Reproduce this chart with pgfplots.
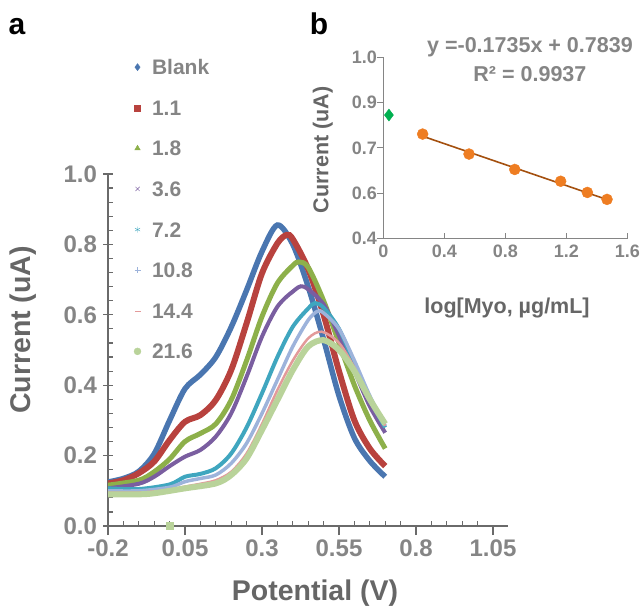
\documentclass[border=0pt]{standalone}
\usepackage{fontspec}
\setmainfont{Liberation Sans}
\usepackage{pgfplots}
\pgfplotsset{compat=1.18}

\definecolor{cBlue}{HTML}{4A76B0}
\definecolor{cRed}{HTML}{B8423E}
\definecolor{cGreen}{HTML}{8DB04A}
\definecolor{cPurple}{HTML}{7A5EA0}
\definecolor{cTeal}{HTML}{3FA6BF}
\definecolor{cLBlue}{HTML}{9DB3DB}
\definecolor{cPink}{HTML}{E39A9A}
\definecolor{cLGreen}{HTML}{B9D39A}
\definecolor{cOrange}{HTML}{EE7D22}
\definecolor{cTrend}{HTML}{A4500F}
\definecolor{cDia}{HTML}{00B050}
\definecolor{cAxis}{HTML}{6A6A6A}
\definecolor{cTick}{HTML}{858585}
\definecolor{cTitle}{HTML}{666666}

\newcommand{\fs}[1]{\fontsize{#1}{#1}\selectfont\bfseries}

\begin{document}
\begin{tikzpicture}
\useasboundingbox (0,0) rectangle (644bp,606bp);

% panel a
\begin{axis}[
    at={(108bp,80bp)}, anchor=south west,
    scale only axis, width=400.4bp, height=352bp,
    xmin=-0.2, xmax=1.1, ymin=0, ymax=1.0,
    axis x line*=bottom, axis y line*=left,
    axis line style={cAxis, line width=1.2bp},
    xtick={-0.2,0.05,0.3,0.55,0.8,1.05},
    xticklabels={-0.2,0.05,0.3,0.55,0.8,1.05},
    ytick={0,0.2,0.4,0.6,0.8,1.0},
    yticklabels={0.0,0.2,0.4,0.6,0.8,1.0},
    minor x tick num=4, minor y tick num=4,
    tick align=center,
    major tick length=9bp, minor tick length=5bp,
    tick style={cAxis, line width=1.2bp},
    major x tick style={yshift=-4.5bp},
    minor x tick style={yshift=2.5bp},
    minor y tick style={xshift=2.5bp},
    tick label style={font=\fs{24bp}, text=cTick},
    xticklabel style={yshift=-6bp},
    yticklabel style={xshift=-3bp},
    xlabel={Potential (V)}, ylabel={Current (uA)},
    label style={font=\fs{28.5bp}, text=cTitle},
    xlabel style={at={(axis description cs:0.517,-0.19)}, anchor=center},
    ylabel style={at={(axis description cs:-0.212,0.557)}, anchor=center},
    legend style={at={(axis description cs:0.057,1.331)}, anchor=north west,
        draw=none, fill=none, font=\fs{21bp}, text=cTick, row sep=25.6bp,
        nodes={inner sep=0pt, text height=15bp, text depth=0pt},
        /tikz/every odd column/.append style={column sep=11bp}},
    legend cell align=left,
    legend image code/.code={\draw[#1] plot coordinates {(0bp,0bp)};},
  ]
  \addlegendimage{only marks, mark=diamond*, mark size=3.5bp, color=cBlue}
  \addlegendentry{Blank}
  \addlegendimage{only marks, mark=square*, mark size=3bp, color=cRed}
  \addlegendentry{1.1}
  \addlegendimage{only marks, mark=triangle*, mark size=3.2bp, color=cGreen}
  \addlegendentry{1.8}
  \addlegendimage{only marks, mark=x, mark size=3bp, color=cPurple}
  \addlegendentry{3.6}
  \addlegendimage{only marks, mark=asterisk, mark size=3bp, color=cTeal}
  \addlegendentry{7.2}
  \addlegendimage{only marks, mark=+, mark size=3bp, color=cLBlue}
  \addlegendentry{10.8}
  \addlegendimage{only marks, mark=-, mark size=3bp, color=cPink}
  \addlegendentry{14.4}
  \addlegendimage{only marks, mark=*, mark size=3.5bp, color=cLGreen}
  \addlegendentry{21.6}

  % Blank
  \addplot[forget plot, smooth, cBlue, line width=5.5bp] coordinates {
    (-0.2,0.125) (-0.15,0.135) (-0.1,0.155) (-0.05,0.205) (0,0.30)
    (0.05,0.39) (0.1,0.43) (0.15,0.48) (0.2,0.565) (0.25,0.67)
    (0.3,0.78) (0.35,0.855) (0.4,0.80) (0.45,0.68) (0.5,0.53)
    (0.55,0.37) (0.6,0.25) (0.65,0.185) (0.7,0.14)};
  % 1.1
  \addplot[forget plot, smooth, cRed, line width=6bp] coordinates {
    (-0.2,0.121) (-0.15,0.13) (-0.1,0.15) (-0.05,0.183) (0,0.244)
    (0.05,0.296) (0.1,0.315) (0.15,0.358) (0.2,0.443) (0.25,0.576)
    (0.3,0.718) (0.35,0.803) (0.38,0.827) (0.4,0.815) (0.45,0.73)
    (0.5,0.60) (0.55,0.44) (0.6,0.30) (0.65,0.22) (0.7,0.17)};
  % 1.8
  \addplot[forget plot, smooth, cGreen, line width=5bp] coordinates {
    (-0.2,0.116) (-0.1,0.13) (-0.05,0.154) (0,0.19) (0.05,0.24)
    (0.1,0.263) (0.15,0.29) (0.2,0.358) (0.25,0.47) (0.3,0.595)
    (0.35,0.69) (0.4,0.74) (0.42,0.75) (0.45,0.735) (0.5,0.64)
    (0.55,0.52) (0.6,0.40) (0.65,0.30) (0.7,0.22)};
  % 3.6
  \addplot[forget plot, smooth, cPurple, line width=4bp] coordinates {
    (-0.2,0.107) (-0.1,0.12) (-0.05,0.14) (0,0.17) (0.05,0.197)
    (0.1,0.216) (0.15,0.254) (0.2,0.32) (0.25,0.424) (0.3,0.538)
    (0.35,0.623) (0.4,0.666) (0.436,0.68) (0.5,0.63) (0.55,0.54)
    (0.6,0.44) (0.65,0.34) (0.7,0.265)};
  % 7.2
  \addplot[forget plot, smooth, cTeal, line width=4bp] coordinates {
    (-0.2,0.107) (-0.1,0.105) (0,0.118) (0.05,0.14) (0.1,0.148)
    (0.15,0.164) (0.2,0.206) (0.25,0.28) (0.3,0.377) (0.35,0.48)
    (0.4,0.566) (0.45,0.618) (0.472,0.633) (0.5,0.62) (0.55,0.56)
    (0.6,0.46) (0.65,0.36) (0.7,0.28)};
  % 10.8
  \addplot[forget plot, smooth, cLBlue, line width=3.5bp] coordinates {
    (-0.2,0.10) (-0.1,0.10) (0,0.11) (0.05,0.126) (0.1,0.135)
    (0.15,0.145) (0.2,0.178) (0.25,0.235) (0.3,0.32) (0.35,0.415)
    (0.4,0.51) (0.45,0.585) (0.48,0.61) (0.5,0.605) (0.55,0.56)
    (0.6,0.47) (0.65,0.37) (0.7,0.285)};
  % 14.4
  \addplot[forget plot, smooth, cPink, line width=2.5bp] coordinates {
    (-0.2,0.095) (-0.1,0.095) (0,0.103) (0.05,0.112) (0.1,0.12)
    (0.15,0.13) (0.2,0.154) (0.25,0.206) (0.3,0.29) (0.35,0.386)
    (0.4,0.47) (0.45,0.533) (0.494,0.552) (0.55,0.52) (0.6,0.45)
    (0.65,0.36) (0.7,0.285)};
  % 21.6
  \addplot[forget plot, smooth, cLGreen, line width=6bp] coordinates {
    (-0.2,0.09) (-0.1,0.09) (-0.05,0.093) (0.05,0.107) (0.15,0.121)
    (0.2,0.145) (0.25,0.192) (0.3,0.273) (0.35,0.358) (0.4,0.443)
    (0.45,0.51) (0.5,0.528) (0.55,0.50) (0.6,0.44) (0.65,0.36)
    (0.7,0.29)};
  \addplot[forget plot, only marks, mark=square*, mark size=3.5bp, color=cLGreen]
    coordinates {(0,0)};
\end{axis}

% panel b
\begin{axis}[
    at={(383.3bp,367.3bp)}, anchor=south west,
    scale only axis, width=244bp, height=181.4bp,
    xmin=0, xmax=1.6, ymin=0.4, ymax=1.0,
    clip=false,
    axis x line*=bottom, axis y line*=left,
    axis line style={cTick, line width=1bp},
    xtick={0,0.4,0.8,1.2,1.6},
    xticklabels={0,0.4,0.8,1.2,1.6},
    ytick={0.4,0.55,0.7,0.85,1.0},
    yticklabels={0.4,0.6,0.7,0.9,1.0},
    tick align=center, major tick length=6bp,
    tick style={cTick, line width=1bp},
    xtick style={yshift=3bp},
    ytick style={xshift=-3bp},
    tick label style={font=\fs{18bp}, text=cTick},
    xlabel={log[Myo, µg/mL]}, ylabel={Current (uA)},
    label style={font=\fs{21.5bp}, text=cTitle},
    xlabel style={at={(axis description cs:0.507,-0.382)}, anchor=center},
    ylabel style={at={(axis description cs:-0.248,0.489)}, anchor=center},
  ]
  \addplot[cTrend, line width=1.6bp] coordinates {(0.258,0.739) (1.467,0.5294)};
  \addplot[only marks, mark=*, mark size=5.5bp, color=cOrange] coordinates {
    (0.258,0.746) (0.562,0.680) (0.862,0.629) (1.163,0.590) (1.338,0.553) (1.467,0.530)};
  \addplot[only marks, mark=diamond*, mark size=6bp, color=cDia] coordinates {(0.037,0.809)};
  \node[font=\fs{21.5bp}, text=cTick] at (axis description cs:0.601,1.057) {y =-0.1735x + 0.7839};
  \node[font=\fs{21.5bp}, text=cTick] at (axis description cs:0.601,0.908) {R² = 0.9937};
\end{axis}

\node[font=\fs{30bp}] at (17bp,579bp) {a};
\node[font=\fs{30bp}] at (319bp,582bp) {b};
\end{tikzpicture}
\end{document}
